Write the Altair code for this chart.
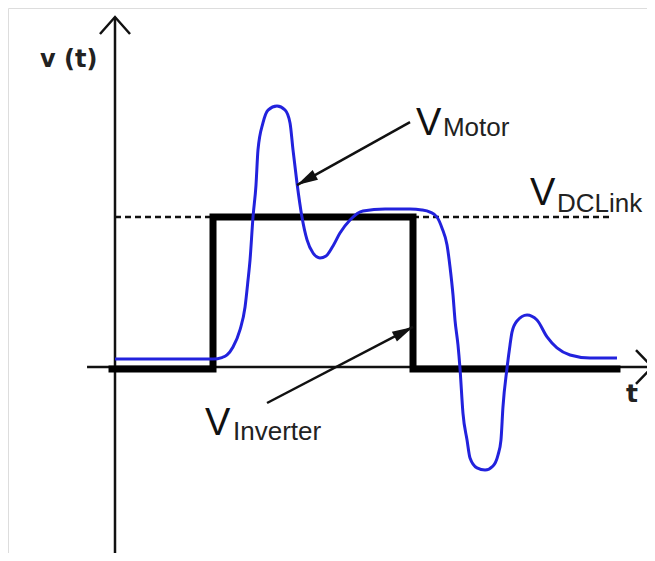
import math
import altair as alt
import pandas as pd

# ---------------- layout of the data space (plot area) ----------------
W, H = 639, 545
T_MIN, T_MAX = -1.0754, 5.3467
V_MIN, V_MAX = -1.24, 2.3933

# ---------------- data ----------------
# motor voltage (blue, ringing)
motor_t = [0.0, 0.985, 1.075, 1.126, 1.186, 1.256, 1.307, 1.337, 1.357, 1.387, 1.417, 1.437,
           1.487, 1.538, 1.628, 1.709, 1.759, 1.789, 1.829, 1.879, 1.930, 1.990, 2.060, 2.121,
           2.191, 2.261, 2.362, 2.492, 2.714, 2.965, 3.085, 3.166, 3.236, 3.286, 3.337, 3.367,
           3.397, 3.417, 3.447, 3.467, 3.497, 3.538, 3.568, 3.638, 3.719, 3.799, 3.849, 3.879,
           3.899, 3.940, 3.970, 3.990, 4.040, 4.141, 4.241, 4.342, 4.442, 4.573, 4.774, 5.045]
motor_v = [0.053, 0.053, 0.063, 0.08, 0.133, 0.247, 0.40, 0.58, 0.713, 1.0, 1.213, 1.447,
           1.627, 1.713, 1.74, 1.713, 1.627, 1.447, 1.227, 1.0, 0.847, 0.76, 0.727, 0.74,
           0.807, 0.893, 0.98, 1.04, 1.053, 1.053, 1.047, 1.033, 1.0, 0.927, 0.813, 0.667,
           0.48, 0.313, 0.147, -0.007, -0.307, -0.487, -0.607, -0.673, -0.687, -0.66, -0.587, -0.487,
           -0.267, -0.007, 0.147, 0.233, 0.307, 0.347, 0.313, 0.2, 0.127, 0.08, 0.06, 0.06]

# inverter voltage (black square pulse)
inverter_t = [-0.03, 0.985, 0.985, 2.995, 2.995, 5.045]
inverter_v = [-0.013, -0.013, 1.0, 1.0, -0.013, -0.013]

# DC link level (dashed)
dclink_v = 1.0
dclink_t_segments = [(0.0, 0.985), (2.995, 4.975)]

# axes
y_axis_t = 0.0
y_axis_v = (V_MIN, 2.333)
x_axis_v = 0.0
x_axis_t = (-0.281, 5.40)
y_arrow_t = [-0.151, 0.0, 0.151]
y_arrow_v = [2.22, 2.333, 2.22]
x_arrow_t = [5.236, 5.40, 5.236]
x_arrow_v = [0.113, 0.0, -0.113]

# annotations: (label tail t, v) -> (arrow tip t, v)
ann_motor = ((2.965, 1.633), (1.829, 1.213))
ann_inverter = ((1.528, -0.24), (2.995, 0.267))

# text labels
labels_big = pd.DataFrame({"t": [3.025, 4.171, 0.905], "v": [1.547, 1.08, -0.453], "txt": ["V", "V", "V"]})
labels_sub = pd.DataFrame({"t": [3.296, 4.442, 1.186], "v": [1.54, 1.033, -0.487],
                           "txt": ["Motor", "DCLink", "Inverter"]})
labels_axis = pd.DataFrame({"t": [-0.754, 5.196], "v": [2.0, -0.233], "txt": ["v (t)", "t"]})

# ---------------- helpers ----------------
xs = alt.Scale(domain=[T_MIN, T_MAX], nice=False, zero=False)
ys = alt.Scale(domain=[V_MIN, V_MAX], nice=False, zero=False)
X = alt.X("t:Q", scale=xs, axis=None)
Y = alt.Y("v:Q", scale=ys, axis=None)


def seg_df(t, v, seg="a"):
    return pd.DataFrame({"t": t, "v": v, "i": list(range(len(t))), "seg": [seg] * len(t)})


def line(df, **kw):
    return alt.Chart(df).mark_line(**kw).encode(x=X, y=Y, order="i:Q", detail="seg:N")


kx = W / (T_MAX - T_MIN)
ky = H / (V_MAX - V_MIN)


def head_angle(tail, tip):
    dx = (tip[0] - tail[0]) * kx
    dy = -(tip[1] - tail[1]) * ky
    return math.degrees(math.atan2(dx, -dy)) % 360


axis_col = "#111111"

dash_df = pd.concat([seg_df(list(s), [dclink_v, dclink_v], f"d{k}") for k, s in enumerate(dclink_t_segments)])
dash = line(dash_df, color="#111111", strokeWidth=2.5, strokeDash=[6, 4])

axes_df = pd.concat([
    seg_df([y_axis_t, y_axis_t], list(y_axis_v), "ya"),
    seg_df(list(x_axis_t), [x_axis_v, x_axis_v], "xa"),
])
axes = line(axes_df, color=axis_col, strokeWidth=2.5)
chevrons = line(pd.concat([seg_df(y_arrow_t, y_arrow_v, "yc"), seg_df(x_arrow_t, x_arrow_v, "xc")]),
                color=axis_col, strokeWidth=2.5, strokeJoin="miter")

pulse = line(seg_df(inverter_t, inverter_v, "p"), color="#000000", strokeWidth=7,
             strokeJoin="miter", strokeCap="square")
motor = alt.Chart(seg_df(motor_t, motor_v, "m")).mark_line(
    color="#2222dd", strokeWidth=3, interpolate="monotone").encode(x=X, y=Y, order="i:Q")

ann_df = pd.concat([
    seg_df([ann_motor[0][0], ann_motor[1][0]], [ann_motor[0][1], ann_motor[1][1]], "am"),
    seg_df([ann_inverter[0][0], ann_inverter[1][0]], [ann_inverter[0][1], ann_inverter[1][1]], "ai"),
])
ann_lines = line(ann_df, color="#111111", strokeWidth=2.5)
heads_df = pd.DataFrame({
    "t": [ann_motor[1][0], ann_inverter[1][0]],
    "v": [ann_motor[1][1], ann_inverter[1][1]],
    "ang": [head_angle(*ann_motor), head_angle(*ann_inverter)],
})
heads = alt.Chart(heads_df).mark_point(
    shape="M0,0 L0.55,2.1 L-0.55,2.1 Z", size=400, filled=True, opacity=1, color="#111111", strokeWidth=0
).encode(x=X, y=Y, angle=alt.Angle("ang:Q", scale=None))

big_txt = alt.Chart(labels_big).mark_text(
    font="Liberation Sans", fontSize=38, align="left", baseline="alphabetic", color="#111111"
).encode(x=X, y=Y, text="txt:N")
sub_txt = alt.Chart(labels_sub).mark_text(
    font="Liberation Sans", fontSize=26, align="left", baseline="alphabetic", color="#222222"
).encode(x=X, y=Y, text="txt:N")
axis_txt_l = alt.Chart(labels_axis.iloc[[0]]).mark_text(
    font="DejaVu Sans", fontWeight="bold", fontSize=24, align="left", baseline="alphabetic", color="#222222"
).encode(x=X, y=Y, text="txt:N")
axis_txt_t = alt.Chart(labels_axis.iloc[[1]]).mark_text(
    font="DejaVu Sans", fontWeight="bold", fontSize=25, align="center", baseline="alphabetic", color="#222222"
).encode(x=X, y=Y, text="txt:N")

chart = alt.layer(
    dash, axes, chevrons, pulse, motor, ann_lines, heads, big_txt, sub_txt, axis_txt_l, axis_txt_t
).properties(
    width=W, height=H, padding=0, autosize=alt.AutoSizeParams(type="none")
).configure_view(strokeWidth=0, stroke="transparent").configure(background="white")

chart.save("out.html", embed_options={"renderer": "svg", "actions": False})
